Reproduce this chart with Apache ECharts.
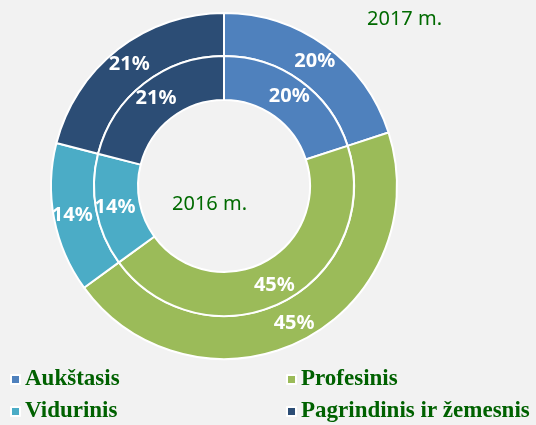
<!DOCTYPE html>
<html>
<head>
<meta charset="utf-8">
<script src="https://cdn.jsdelivr.net/npm/echarts@6/dist/echarts.min.js"></script>
<style>
html,body{margin:0;padding:0;background:#f2f2f2;}
#c{width:536px;height:425px;}
</style>
</head>
<body>
<div id="c"></div>
<script>
var categories = ['Aukštasis', 'Profesinis', 'Vidurinis', 'Pagrindinis ir žemesnis'];
var values2016 = [20, 45, 14, 21];
var values2017 = [20, 45, 14, 21];
var colors = ['#4f81bd', '#9bbb59', '#4bacc6', '#2c4d75'];
var title2016 = '2016 m.';
var title2017 = '2017 m.';

function mk(vals) {
  return categories.map(function (c, i) { return { name: c, value: vals[i] }; });
}
var labelCfg = {
  show: true, position: 'inside', formatter: '{c}%',
  color: '#ffffff', fontFamily: 'Noto Sans', fontWeight: 'bold', fontSize: 20
};
var legendBase = {
  icon: 'rect', itemWidth: 9, itemHeight: 9, itemGap: 5, selectedMode: false,
  textStyle: { fontFamily: 'Liberation Serif', fontWeight: 'bold', fontSize: 23, color: '#006100', padding: [0,0,0,0] },
  itemStyle: { borderColor: '#ffffff', borderWidth: 2 },
  padding: 0
};
function lg(name, left, top) {
  var o = Object.assign({}, legendBase);
  o.data = [name]; o.left = left; o.top = top;
  return o;
}
var chart = echarts.init(document.getElementById('c'), null, { renderer: 'canvas' });
chart.setOption({
  backgroundColor: '#f2f2f2',
  animation: false,
  color: colors,
  legend: [
    lg(categories[0], 10, 368),
    lg(categories[1], 286, 368),
    lg(categories[2], 10, 400),
    lg(categories[3], 286, 400)
  ],
  graphic: [
    { type: 'text', left: 367, top: 9, style: { text: title2017, fontFamily: 'Noto Sans', fontSize: 20, fill: '#006a00' } },
    { type: 'text', left: 172, top: 194, style: { text: title2016, fontFamily: 'Noto Sans', fontSize: 20, fill: '#006a00' } }
  ],
  series: [
    {
      name: title2017, type: 'pie', center: [224, 186], radius: [130, 173],
      startAngle: 90, clockwise: true, silent: true,
      itemStyle: { borderColor: '#ffffff', borderWidth: 2 },
      label: labelCfg, labelLine: { show: false },
      data: mk(values2017)
    },
    {
      name: title2016, type: 'pie', center: [224, 186], radius: [86, 130],
      startAngle: 90, clockwise: true, silent: true,
      itemStyle: { borderColor: '#ffffff', borderWidth: 2 },
      label: labelCfg, labelLine: { show: false },
      data: mk(values2016)
    }
  ]
});
</script>
</body>
</html>
